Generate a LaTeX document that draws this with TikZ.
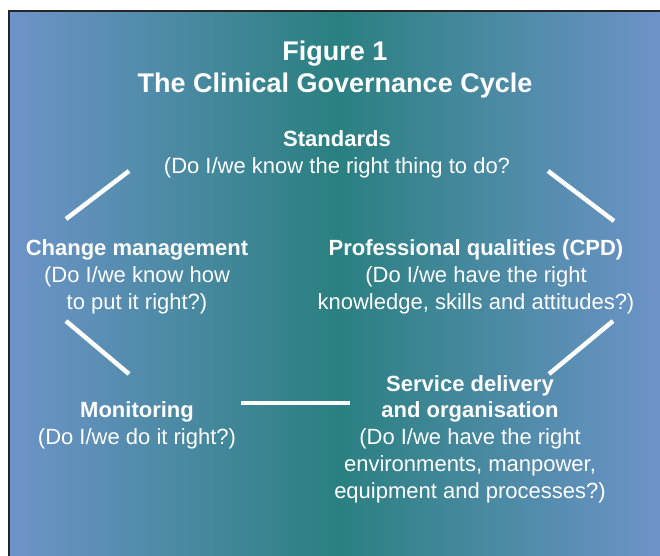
\documentclass[tikz,border=0pt]{standalone}
\usepackage{fontspec}
\setmainfont{Liberation Sans}
\definecolor{paneledge}{RGB}{110,148,201}
\definecolor{panelmid}{RGB}{42,128,128}
\tikzset{
  cyctext/.style={text=white, align=center, anchor=base, inner sep=0pt,
    font=\fontsize{22}{26.7}\selectfont},
  cycline/.style={white, line width=4.5pt},
}
\newcommand{\hd}[1]{\textbf{#1}}
\begin{document}
\begin{tikzpicture}[x=1pt,y=-1pt]
		\useasboundingbox (0,0) rectangle (660,555);
		% panel: light blue at the sides, teal in the middle
		\shade[left color=paneledge, right color=paneledge, middle color=panelmid] (9,11) rectangle (665,560);
		\draw[line width=2pt, black!85] (9,11) rectangle (665,560);
		
		% base anchor of a multi-line node sits on its last line
		\node[cyctext, font=\fontsize{27}{31.5}\selectfont\bfseries] (title) at (335,92) {Figure 1\\The Clinical Governance Cycle};
		
		\node[cyctext] (std) at (337,173) {\hd{Standards}\\(Do I/we know the right thing to do?};
		\node[cyctext] (chg) at (137,309) {\hd{Change management}\\(Do I/we know how\\to put it right?)};
		\node[cyctext] (prof) at (476,309) {\hd{Professional qualities (CPD)}\\(Do I/we have the right\\knowledge, skills and attitudes?)};
		\node[cyctext] (mon) at (137,444) {\hd{Monitoring}\\(Do I/we do it right?)};
		\node[cyctext] (serv) at (470,498) {\hd{Service delivery}\\\hd{and organisation}\\(Do I/we have the right\\environments, manpower,\\equipment and processes?)};
		
		% the links of the cycle
		\draw[cycline] (129,171) coordinate (l1a) -- (66,219) coordinate (l1b);
		\draw[cycline] (548,171) coordinate (l2a) -- (614,221) coordinate (l2b);
		\draw[cycline] (66,321) coordinate (l3a) -- (129,374) coordinate (l3b);
		\draw[cycline] (613,321) coordinate (l4a) -- (549,374) coordinate (l4b);
		\draw[cycline] (241,403) coordinate (l5a) -- (350,403) coordinate (l5b);
\end{tikzpicture}
\end{document}
